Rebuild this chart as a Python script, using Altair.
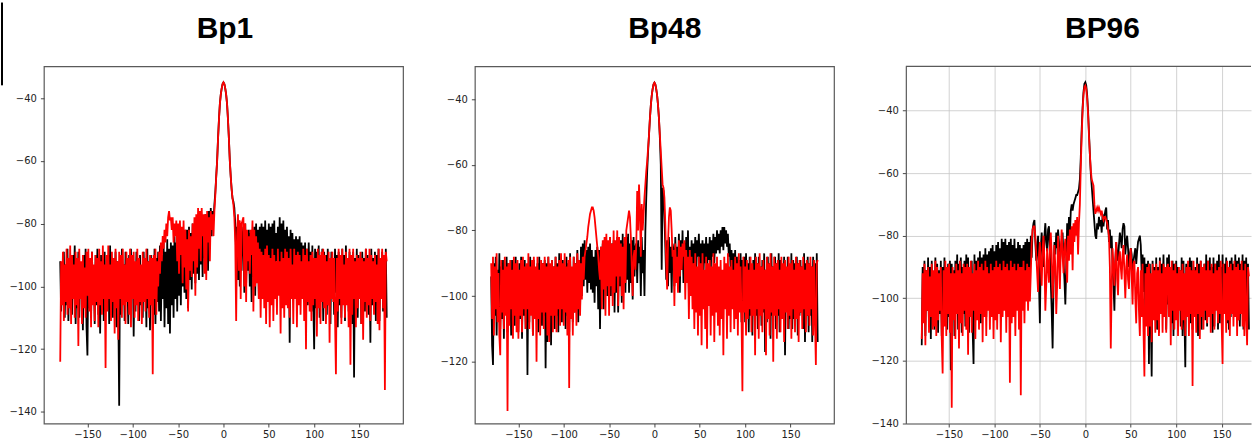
import altair as alt
import pandas as pd

# sample positions (degrees), 1-degree steps
X = list(range(-180, 181))

BP1_BLACK = [
    -92,-108,-95,-104,-89,-110,-93,-106,-88,-111,
    -91,-105,-94,-109,-90,-103,-87,-112,-92,-107,
    -89,-110,-93,-104,-96,-114,-90,-106,-88,-113,
    -122,-92,-107,-91,-110,-89,-105,-94,-112,-90,
    -106,-88,-109,-93,-115,-90,-104,-92,-111,-89,
    -108,-94,-103,-90,-112,-87,-107,-93,-110,-91,
    -104,-89,-113,-92,-106,-138,-90,-109,-88,-105,
    -93,-111,-89,-104,-95,-112,-90,-107,-88,-103,
    -91,-116,-93,-108,-89,-105,-92,-111,-90,-106,
    -94,-110,-89,-104,-91,-113,-88,-107,-92,-114,
    -90,-106,-93,-109,-88,-112,-91,-105,-89,-108,
    -87,-111,-90,-104,-86,-113,-89,-107,-85,-112,
    -88,-115,-86,-106,-87,-110,-84,-104,-86,-108,
    -84,-103,-85,-106,-83,-100,-84,-102,-82,-104,
    -82,-107,-81,-98,-83,-101,-80,-96,-82,-99,
    -79,-96,-80,-98,-78,-93,-79,-97,-78,-91,
] + [
    -77,-90,-78,-95,-76,-88,-75,-84,-76,-79,
    -74,-70,-65,-60,-53,-47,-42,-39,-37,-35.5,
    -35,
    -35.5,-37,-39,-42,-47,-53,-60,-65,-69,-72,
    -73,-75,-80,-90,-81,-98,-79,-100,-82,-95,
] + [
    -84,-81,-102,-80,-99,-83,-95,-82,-100,-83,
    -105,-82,-97,-81,-103,-80,-96,-82,-104,-81,
    -98,-80,-96,-81,-100,-79,-94,-82,-99,-80,
    -95,-81,-98,-80,-93,-79,-97,-83,-92,-81,
    -96,-78,-97,-80,-101,-79,-93,-82,-99,-81,
    -95,-84,-118,-82,-97,-83,-94,-85,-99,-84,
    -103,-85,-97,-84,-100,-86,-96,-87,-105,-86,
    -101,-88,-106,-86,-100,-89,-108,-87,-104,-120,
    -88,-107,-89,-103,-87,-110,-90,-105,-88,-111,
    -89,-104,-90,-109,-88,-106,-91,-112,-89,-103,
    -91,-109,-88,-102,-90,-113,-89,-106,-92,-110,
    -88,-105,-90,-111,-87,-104,-92,-108,-89,-106,
    -90,-112,-89,-129,-91,-106,-88,-110,-90,-104,
    -92,-112,-89,-103,-91,-108,-88,-105,-90,-109,
    -92,-118,-88,-106,-91,-103,-89,-111,-90,-106,
    -88,-111,-92,-104,-89,-108,-90,-105,-88,-110,
]

BP1_RED = [
    -124,-92,-106,-89,-111,-93,-105,-88,-109,-91,
    -107,-87,-112,-90,-104,-93,-110,-89,-106,-91,
    -119,-88,-104,-92,-112,-90,-107,-94,-110,-89,
    -103,-88,-108,-91,-113,-89,-106,-93,-111,-90,
    -105,-91,-113,-88,-106,-92,-109,-87,-104,-93,
    -126,-90,-108,-87,-104,-93,-111,-89,-105,-91,
    -115,-88,-107,-92,-117,-89,-104,-90,-110,-88,
    -106,-93,-112,-89,-105,-91,-109,-88,-113,-90,
    -104,-89,-110,-92,-106,-88,-111,-91,-105,-93,
    -112,-89,-105,-91,-108,-88,-104,-92,-110,-90,
    -106,-91,-128,-90,-104,-88,-109,-92,-100,-89,
    -96,-86,-92,-84,-88,-82,-86,-80,-84,-78,
    -76,-79,-78,-82,-78,-86,-80,-84,-79,-92,
    -80,-96,-79,-90,-81,-99,-79,-94,-82,-101,
    -85,-108,-82,-95,-84,-97,-80,-92,-78,-103,
    -77,-94,-75,-88,-76,-92,-75,-84,-77,-96,
] + [
    -77,-98,-76,-86,-78,-92,-76,-82,-77,-84,
    -76,-71,-65,-60,-53,-47,-42,-39,-37,-35.5,
    -35,
    -35.5,-37,-39,-42,-47,-53,-60,-65,-69,-72,
    -74,-78,-86,-111,-84,-77,-95,-79,-104,-80,
] + [
    -79,-78,-100,-80,-105,-82,-92,-84,-96,-82,
    -90,-79,-108,-82,-100,-84,-99,-86,-104,-88,
    -110,-89,-104,-90,-107,-88,-112,-87,-105,-90,
    -113,-91,-106,-88,-111,-90,-104,-92,-109,-88,
    -103,-92,-115,-89,-107,-91,-110,-88,-106,-89,
    -107,-91,-110,-88,-104,-93,-112,-88,-104,-90,
    -113,-89,-106,-90,-109,-92,-104,-88,-111,-90,
    -120,-88,-105,-92,-108,-90,-111,-89,-106,-91,
    -104,-91,-116,-88,-107,-90,-112,-89,-105,-88,
    -107,-90,-112,-92,-106,-89,-118,-91,-104,-89,
    -105,-91,-110,-128,-91,-108,-88,-104,-90,-112,
    -88,-106,-93,-110,-89,-106,-91,-113,-88,-125,
    -90,-109,-88,-104,-92,-113,-90,-107,-91,-104,
    -89,-112,-91,-117,-92,-105,-88,-110,-91,-106,
    -88,-111,-90,-104,-92,-109,-90,-105,-93,-112,
    -88,-114,-91,-104,-88,-107,-90,-133,-89,-92,
]

BP48_BLACK = [
    -94,-115,-121,-90,-106,-88,-112,-92,-104,-87,
    -110,-91,-107,-89,-113,-93,-105,-88,-111,-90,
    -106,-92,-112,-89,-104,-91,-109,-88,-105,-93,
    -111,-90,-107,-88,-113,-91,-106,-89,-110,-92,
    -124,-92,-108,-88,-103,-91,-112,-89,-107,-93,
    -105,-90,-111,-88,-104,-92,-109,-90,-106,-89,
    -122,-90,-114,-88,-109,-92,-115,-89,-104,-91,
    -110,-88,-106,-90,-111,-87,-103,-92,-108,-89,
    -104,-91,-110,-88,-106,-90,-111,-87,-103,-92,
    -108,-88,-105,-90,-103,-86,-108,-89,-104,-85,
    -100,-84,-97,-83,-95,-86,-99,-85,-96,-84,
    -98,-86,-99,-88,-102,-86,-97,-85,-104,-86,
    -110,-85,-98,-84,-104,-83,-96,-85,-100,-84,
    -96,-82,-100,-84,-97,-83,-105,-84,-99,-82,
    -105,-82,-97,-83,-102,-81,-95,-84,-99,-82,
    -95,-81,-99,-84,-96,-83,-101,-82,-94,-85,
] + [
    -84,-96,-83,-90,-85,-100,-82,-93,-86,-100,
    -80,-70,-62,-56,-51,-46,-42,-39,-37,-35.5,
    -35,
    -35.5,-37,-39,-42,-46,-52,-60,-92,-67,-68,
    -76,-85,-95,-83,-97,-82,-93,-85,-99,-84,
] + [
    -86,-97,-82,-94,-85,-91,-81,-99,-83,-92,
    -80,-96,-84,-90,-82,-93,-80,-98,-85,-91,
    -83,-95,-84,-90,-82,-94,-83,-88,-81,-92,
    -84,-91,-83,-95,-84,-90,-82,-93,-84,-89,
    -82,-94,-83,-88,-81,-90,-82,-87,-80,-86,
    -81,-87,-80,-85,-79,-86,-79,-84,-80,-85,
    -81,-88,-84,-92,-86,-94,-87,-98,-86,-97,
    -88,-104,-89,-100,-87,-108,-89,-103,-88,-108,
    -87,-103,-90,-111,-88,-106,-91,-112,-89,-105,
    -87,-106,-90,-110,-88,-104,-91,-109,-89,-105,
    -87,-117,-92,-108,-88,-103,-90,-113,-87,-106,
    -91,-104,-88,-110,-90,-106,-87,-111,-89,-106,
    -91,-105,-88,-118,-92,-104,-88,-110,-92,-107,
    -87,-110,-89,-107,-90,-103,-88,-112,-90,-106,
    -89,-105,-91,-110,-87,-114,-90,-106,-88,-111,
    -90,-106,-91,-114,-88,-107,-90,-111,-87,-114,
]

BP48_RED = [
    -90,-107,-88,-112,-91,-104,-87,-108,-93,-112,
    -118,-89,-105,-92,-110,-88,-106,-91,-135,-90,
    -109,-89,-104,-92,-113,-88,-106,-90,-111,-89,
    -113,-92,-106,-89,-111,-88,-104,-91,-110,-90,
    -104,-87,-110,-91,-106,-89,-112,-88,-107,-91,
    -120,-88,-107,-92,-112,-89,-105,-90,-110,-88,
    -105,-91,-112,-88,-114,-90,-106,-89,-111,-91,
    -106,-88,-111,-91,-104,-89,-109,-87,-104,-90,
    -109,-87,-105,-91,-112,-89,-128,-88,-107,-91,
    -112,-88,-105,-90,-109,-87,-104,-89,-106,-90,
    -101,-88,-95,-88,-86,-84,-82,-79,-77,-75,
    -74,-73,-73,-74,-76,-79,-82,-85,-88,-92,
    -95,-85,-104,-83,-98,-82,-106,-81,-97,-83,
    -106,-82,-97,-84,-103,-80,-99,-83,-94,-80,
    -103,-82,-94,-84,-100,-85,-104,-82,-96,-80,
    -78,-76,-74,-76,-82,-91,-100,-88,-86,-92,
] + [
    -84,-68,-80,-66,-74,-88,-72,-80,-75,-70,
    -66,-62,-59,-55,-51,-46,-42,-39,-37,-35.5,
    -35,
    -35.5,-37,-39,-42,-46,-51,-56,-61,-66,-67,
    -70,-78,-90,-98,-84,-76,-73,-74,-80,-88,
] + [
    -86,-103,-84,-96,-88,-99,-83,-94,-85,-92,
    -84,-88,-83,-101,-86,-96,-88,-107,-86,-100,
    -88,-104,-90,-110,-87,-105,-91,-112,-88,-106,
    -90,-115,-87,-104,-92,-110,-88,-116,-90,-103,
    -89,-112,-91,-106,-87,-114,-90,-105,-88,-109,
    -91,-112,-89,-107,-92,-118,-88,-104,-90,-113,
    -87,-106,-91,-111,-89,-104,-92,-110,-88,-107,
    -90,-112,-87,-105,-91,-106,-129,-88,-105,-91,
    -112,-89,-107,-92,-104,-88,-111,-90,-106,-92,
    -118,-88,-104,-90,-113,-87,-106,-91,-111,-89,
    -104,-92,-118,-88,-107,-90,-112,-87,-105,-91,
    -120,-88,-106,-90,-113,-89,-104,-92,-111,-88,
    -107,-90,-114,-89,-105,-91,-110,-88,-106,-90,
    -113,-89,-104,-92,-111,-88,-107,-90,-114,-89,
    -105,-91,-110,-88,-104,-92,-111,-89,-106,-90,
    -109,-88,-104,-91,-112,-89,-107,-121,-90,-89,
]

BP96_BLACK = [
    -115,-90,-107,-88,-112,-91,-104,-87,-109,-90,
    -113,-88,-105,-92,-110,-87,-106,-89,-111,-91,
    -105,-88,-112,-90,-104,-87,-108,-91,-110,-89,
    -106,-88,-123,-89,-106,-91,-112,-88,-104,-86,
    -110,-89,-107,-87,-111,-90,-105,-88,-109,-86,
    -107,-87,-111,-90,-104,-88,-110,-121,-86,-105,
    -88,-102,-87,-106,-85,-108,-87,-100,-86,-104,
    -84,-106,-86,-99,-85,-103,-84,-97,-83,-102,
    -85,-97,-83,-102,-82,-96,-84,-99,-81,-95,
    -82,-99,-81,-95,-83,-100,-82,-94,-81,-97,
    -83,-100,-81,-94,-84,-98,-82,-93,-83,-96,
    -84,-98,-83,-93,-82,-96,-81,-94,-82,-95,
    -80,-87,-78,-76,-75,-82,-88,-84,-80,-95,
    -108,-84,-79,-85,-90,-80,-76,-82,-85,-78,
    -77,-85,-95,-104,-116,-96,-82,-86,-79,-84,
    -78,-82,-90,-84,-82,-79,-88,-94,-102,-90,
] + [
    -76,-82,-74,-80,-72,-70,-72,-70,-69,-68,
    -67,-67,-66,-65,-62,-55,-46,-39,-34,-31.5,
    -31,
    -32,-35,-40,-47,-54,-60,-64,-68,-72,-76,
    -80,-81,-76,-78,-74,-77,-75,-79,-73,-77,
] + [
    -74,-72,-71,-78,-75,-82,-78,-84,-80,-90,
    -96,-104,-88,-82,-86,-88,-83,-79,-81,-84,
    -78,-76,-77,-86,-82,-80,-84,-90,-86,-84,
    -86,-94,-88,-86,-84,-89,-85,-82,-81,-80,
    -83,-92,-86,-98,-87,-104,-89,-100,-88,-121,
    -89,-106,-125,-88,-104,-90,-107,-87,-110,-90,
    -111,-87,-104,-89,-99,-86,-106,-90,-110,-87,
    -102,-86,-106,-91,-108,-88,-112,-89,-104,-88,
    -105,-90,-103,-91,-109,-87,-112,-88,-105,-122,
    -89,-104,-90,-102,-87,-108,-88,-110,-91,-106,
    -90,-104,-87,-112,-89,-106,-88,-110,-90,-103,
    -89,-107,-86,-109,-88,-104,-87,-105,-90,-111,
    -87,-109,-89,-103,-88,-110,-86,-108,-90,-104,
    -86,-103,-89,-104,-87,-108,-90,-110,-88,-106,
    -87,-105,-89,-102,-86,-103,-88,-107,-87,-109,
    -89,-104,-86,-110,-88,-105,-87,-108,-89,-110,
]

BP96_RED = [
    -113,-92,-108,-89,-115,-91,-104,-90,-111,-93,
    -106,-89,-110,-91,-109,-88,-112,-90,-107,-92,
    -104,-90,-113,-124,-91,-109,-88,-112,-90,-105,
    -89,-111,-92,-135,-90,-107,-92,-113,-89,-105,
    -91,-116,-88,-108,-92,-112,-89,-104,-90,-110,
    -89,-118,-90,-106,-88,-111,-92,-104,-89,-113,
    -91,-107,-88,-110,-90,-105,-89,-114,-91,-106,
    -88,-112,-90,-104,-92,-110,-89,-106,-91,-113,
    -90,-107,-88,-110,-90,-105,-89,-114,-91,-106,
    -88,-104,-90,-111,-89,-106,-91,-127,-88,-108,
    -90,-106,-89,-112,-91,-104,-89,-110,-90,-131,
    -90,-104,-88,-108,-91,-101,-89,-104,-90,-101,
    -92,-82,-78,-77,-77,-80,-86,-92,-98,-86,
    -82,-90,-96,-84,-80,-88,-104,-96,-84,-90,
    -95,-84,-79,-86,-100,-92,-83,-90,-105,-96,
    -80,-86,-97,-84,-78,-86,-92,-84,-81,-88,
] + [
    -95,-80,-88,-78,-86,-77,-91,-76,-82,-75,
    -80,-74,-86,-76,-70,-58,-48,-40,-35,-32.5,
    -32,
    -33,-36,-41,-48,-54,-59,-62,-63,-64,-70,
    -73,-72,-71,-72,-71,-72,-73,-72,-74,-75,
] + [
    -74,-74,-75,-76,-78,-80,-90,-116,-96,-84,
    -90,-96,-88,-82,-94,-99,-87,-85,-90,-94,
    -86,-83,-92,-100,-90,-86,-94,-97,-88,-84,
    -93,-102,-89,-88,-100,-108,-92,-90,-104,-112,
    -91,-106,-89,-110,-125,-92,-109,-90,-112,-89,
    -109,-92,-114,-89,-107,-91,-111,-89,-107,-91,
    -112,-88,-105,-92,-111,-89,-106,-90,-111,-90,
    -89,-106,-90,-115,-88,-104,-91,-110,-89,-107,
    -92,-112,-90,-104,-91,-110,-89,-107,-92,-112,
    -90,-106,-88,-112,-90,-105,-91,-128,-88,-106,
    -91,-111,-89,-105,-92,-113,-88,-106,-90,-110,
    -89,-104,-91,-108,-88,-106,-91,-111,-89,-105,
    -92,-110,-89,-104,-91,-108,-90,-105,-88,-108,
    -121,-89,-105,-92,-111,-88,-107,-90,-112,-89,
    -105,-91,-109,-88,-106,-90,-112,-89,-107,-91,
    -105,-88,-109,-91,-112,-89,-105,-115,-90,-93,
]

TITLES = ["Bp1", "Bp48", "BP96"]
X_TICKS = [-150, -100, -50, 0, 50, 100, 150]
Y_TICKS_A = [-140, -120, -100, -80, -60, -40]
Y_TICKS_B = [-120, -100, -80, -60, -40]

FRAME = "#5a5a5a"
LW = 1.8


def panel(title, black, red, xdom, ydom, yticks, width, title_x,
          grid=False, open_right=False, left_mark=False):
    df = pd.DataFrame({"x": X, "black": black, "red": red})
    ax = dict(labelFont="DejaVu Sans", labelFontSize=10, labelColor="#222222",
              tickColor="#333333", tickSize=3.5, tickWidth=0.9,
              grid=grid, gridColor="#c6c6c6", gridWidth=0.8,
              domain=open_right, domainColor=FRAME, domainWidth=1.2, title=None)
    xenc = alt.X("x:Q", scale=alt.Scale(domain=xdom, nice=False, zero=False),
                 axis=alt.Axis(values=X_TICKS, labelPadding=3, **ax))
    yscale = alt.Scale(domain=ydom, nice=False, zero=False)
    yaxis = alt.Axis(values=yticks, labelPadding=4, **ax)
    base = alt.Chart(df)
    lb = base.mark_line(color="black", strokeWidth=LW).encode(
        x=xenc, y=alt.Y("black:Q", scale=yscale, axis=yaxis))
    lr = base.mark_line(color="#ff0000", strokeWidth=LW).encode(
        x=xenc, y=alt.Y("red:Q", scale=yscale, axis=yaxis))
    tdf = pd.DataFrame({"t": [title]})
    ttl = alt.Chart(tdf).mark_text(
        font="Liberation Sans", fontSize=30, fontWeight="bold",
        align="center", baseline="alphabetic", color="black"
    ).encode(x=alt.value(title_x), y=alt.value(-28), text="t:N")
    layers = [lb, lr, ttl]
    if open_right:
        top = alt.Chart(pd.DataFrame({"k": [0]})).mark_rule(
            color=FRAME, strokeWidth=1.2
        ).encode(x=alt.value(0), x2=alt.value(width), y=alt.value(0))
        layers.append(top)
    if left_mark:
        edge = alt.Chart(pd.DataFrame({"k": [0]})).mark_rule(
            color="black", strokeWidth=2
        ).encode(x=alt.value(-42), y=alt.value(-64), y2=alt.value(19))
        layers.append(edge)
    ch = alt.layer(*layers).properties(width=width, height=358)
    if open_right:
        ch = ch.properties(view=alt.ViewBackground(stroke="transparent"))
    return ch


p1 = panel(TITLES[0], BP1_BLACK, BP1_RED, [-198, 198], [-143.7, -29.9],
           Y_TICKS_A, 360, 181.5, left_mark=True)
p2 = panel(TITLES[1], BP48_BLACK, BP48_RED, [-198, 198], [-138.8, -30.06],
           Y_TICKS_B, 360, 190.3)
p3 = panel(TITLES[2], BP96_BLACK, BP96_RED, [-197.5, 182.3], [-140, -25.9],
           Y_TICKS_A, 346, 197.1, grid=True, open_right=True)

chart = alt.hconcat(p1, p2, p3, spacing=72, bounds="flush").properties(
    padding={"left": 0, "top": 0, "right": 0, "bottom": 0},
    background="white"
).configure_view(stroke=FRAME, strokeWidth=1.2)

chart.save("out.html", embed_options={"renderer": "svg", "actions": False})
